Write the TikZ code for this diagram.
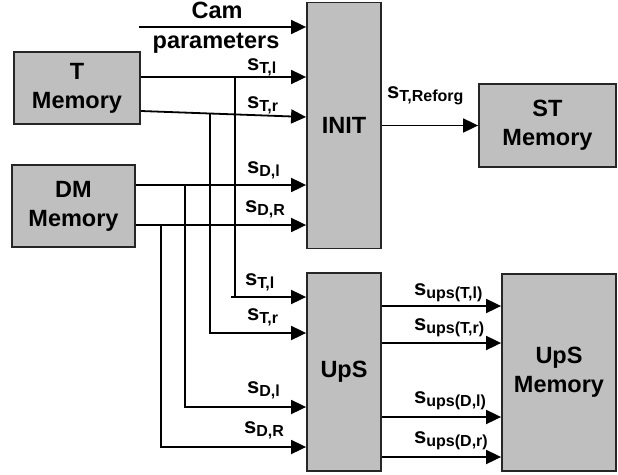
\documentclass[tikz,border=0pt]{standalone}
\usepackage{fontspec}
\setmainfont{Liberation Sans}
\usetikzlibrary{arrows.meta}
\newcommand{\sigl}[1]{{\fontsize{22}{22}\selectfont s}{\fontsize{16}{16}\selectfont\raisebox{-3pt}{#1}}}
\tikzset{
  blk/.style={draw=black!85, line width=1.8pt, fill=black!25, rectangle, inner sep=0pt,
    align=center, font=\bfseries\fontsize{23.5}{29}\selectfont},
  arr/.style={line width=1.8pt, -{Triangle[length=15pt,width=14pt]}},
  ln/.style={line width=1.8pt},
  lbl/.style={anchor=base west, inner sep=0pt, font=\bfseries},
}
\begin{document}
\begin{tikzpicture}[x=1pt,y=-1pt]
\useasboundingbox (0,0) rectangle (618,474);
\node[blk, minimum width=126pt, minimum height=72pt] (Tmem) at (77,88) {T\\Memory};
\node[blk, minimum width=123pt, minimum height=82pt] (DMmem) at (73.5,206) {DM\\Memory};
\node[blk, minimum width=74pt, minimum height=246pt] (INIT) at (344,125.5) {INIT};
\node[blk, minimum width=137pt, minimum height=83pt] (STmem) at (547.5,125.5) {ST\\Memory};
\node[blk, minimum width=74pt, minimum height=198pt] (UpS) at (344,372) {UpS};
\node[blk, minimum width=114pt, minimum height=197pt] (UpSmem) at (559,372.5) {UpS\\Memory};

% Cam parameters
\coordinate (camstart) at (139,27);
\draw[arr] (camstart) -- (INIT.west |- camstart);
\node[inner sep=0pt, anchor=base, font=\bfseries\fontsize{23.5}{29}\selectfont] (cam) at (217,18) {Cam};
\node[inner sep=0pt, anchor=base, font=\bfseries\fontsize{23.5}{29}\selectfont] (par) at (216,48) {parameters};

% inputs to INIT
\draw[arr] (Tmem.east |- 0,77) -- (INIT.west |- 0,77);
\draw[arr] (Tmem.east |- 0,111) -- (INIT.west |- 0,117);
\draw[arr] (DMmem.east |- 0,185) -- (INIT.west |- 0,185);
\draw[arr] (DMmem.east |- 0,225) -- (INIT.west |- 0,225);

% branches
\coordinate (b1) at (235,77);
\coordinate (b2) at (210,113.5);
\coordinate (b3) at (185,185);
\coordinate (b4) at (161,225);
\draw[ln] (b1) -- (235,297);
\draw[arr] (231,297) -- (UpS.west |- 0,297);
\draw[arr] (b2) |- (UpS.west |- 0,333);
\draw[arr] (b3) |- (UpS.west |- 0,407);
\draw[arr] (b4) |- (UpS.west |- 0,447);

% INIT output
\draw[arr] (INIT.east |- STmem.west) -- (STmem.west);

% UpS outputs
\draw[arr] (UpS.east |- 0,306) -- (UpSmem.west |- 0,306);
\draw[arr] (UpS.east |- 0,343) -- (UpSmem.west |- 0,343);
\draw[arr] (UpS.east |- 0,417) -- (UpSmem.west |- 0,417);
\draw[arr] (UpS.east |- 0,457) -- (UpSmem.west |- 0,457);

% labels
\node[lbl] (l1) at (247,70) {\sigl{T,l}};
\node[lbl] (l2) at (247,108) {\sigl{T,r}};
\node[lbl] (l3) at (247,173) {\sigl{D,l}};
\node[lbl] (l4) at (245,212) {\sigl{D,R}};
\node[lbl] (l5) at (245,285) {\sigl{T,l}};
\node[lbl] (l6) at (247,320) {\sigl{T,r}};
\node[lbl] (l7) at (247,393) {\sigl{D,l}};
\node[lbl] (l8) at (244,433) {\sigl{D,R}};
\node[lbl] (l9) at (387,98) {\sigl{T,Reforg}};
\node[lbl] (u1) at (414,295) {\sigl{ups(T,l)}};
\node[lbl] (u2) at (414,330) {\sigl{ups(T,r)}};
\node[lbl] (u3) at (414,403) {\sigl{ups(D,l)}};
\node[lbl] (u4) at (414,443) {\sigl{ups(D,r)}};
\end{tikzpicture}
\end{document}
